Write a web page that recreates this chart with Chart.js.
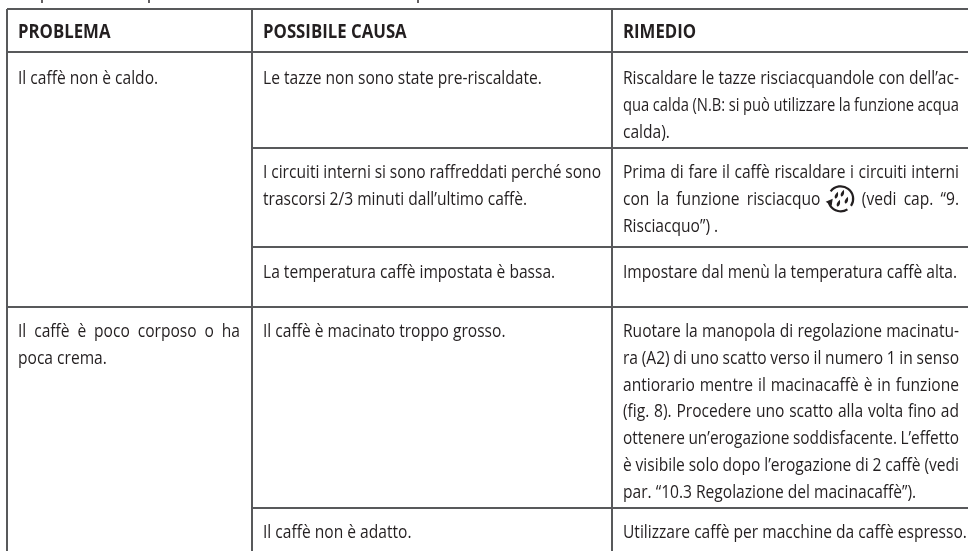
<!DOCTYPE html>
<html>
<head>
<meta charset="utf-8">
<title>Problema, causa, rimedio</title>
<style>
html, body { margin: 0; padding: 0; background: #fff; }
canvas { display: block; }
</style>
<script src="https://cdn.jsdelivr.net/npm/chart.js@4/dist/chart.umd.min.js"></script>
</head>
<body>
<canvas id="table" width="968" height="551"></canvas>
<script>
// table content
const headers = ["PROBLEMA", "POSSIBILE CAUSA", "RIMEDIO"]
const problems = [
    [["Il caffè non è caldo.", false]],
    [["Il caffè è poco corposo o ha", true], ["poca crema.", false]]
]
const causes = [
    [["Le tazze non sono state pre-riscaldate.", false]],
    [["I circuiti interni si sono raffreddati perché sono", true], ["trascorsi 2/3 minuti dall’ultimo caffè.", false]],
    [["La temperatura caffè impostata è bassa.", false]],
    [["Il caffè è macinato troppo grosso.", false]],
    [["Il caffè non è adatto.", false]]
]
const remedies = [
    [["Riscaldare le tazze risciacquandole con dell’ac-", true], ["qua calda (N.B: si può utilizzare la funzione acqua", true], ["calda).", false]],
    [["Prima di fare il caffè riscaldare i circuiti interni", true], ["con la funzione risciacquo @icon (vedi cap. “9.", true], ["Risciacquo”) .", false]],
    [["Impostare dal menù la temperatura caffè alta.", false]],
    [["Ruotare la manopola di regolazione macinatu-", true], ["ra (A2) di uno scatto verso il numero 1 in senso", true], ["antiorario mentre il macinacaffè è in funzione", true], ["(fig. 8). Procedere uno scatto alla volta fino ad", true], ["ottenere un’erogazione soddisfacente. L’effetto", true], ["è visibile solo dopo l’erogazione di 2 caffè (vedi", true], ["par. “10.3 Regolazione del macinacaffè”).", false]],
    [["Utilizzare caffè per macchine da caffè espresso.", false]]
]

// rule positions
const columnEdges = [7, 252, 612, 968]
const rowEdges = [9, 52, 148, 247, 307, 508, 551]
const baselineOffsets = { 52: 32, 148: 30, 247: 31, 307: 30, 508: 30 }
const problemRows = [1, 4]
const causeRows = [1, 2, 3, 4, 5]
const textLefts = [18, 263, 623]
const textRights = [240, 601, 959]
const cutOffMarks = [42, 149, 418]

const ink = "#231f20"
const ruleColor = "#58595b"
const bodyFont = '19px "Open Sans", sans-serif'
const headFont = 'bold 19.5px "Open Sans", sans-serif'
const bodySqueeze = 0.82
const headSqueeze = 0.86
const minWordGap = 3.5
const lineGap = 26.8

function rule(x0, x1, y0, y1, color) {
    return {
        data: [{ x: x0, y: y0 }, { x: x1, y: y1 }],
        borderColor: color || ruleColor,
        borderWidth: color ? 1.4 : 2,
        pointRadius: 0,
        showLine: true,
        clip: false
    }
}

const rules = []
columnEdges.slice(0, 3).forEach(x => rules.push(rule(x, x, rowEdges[0], rowEdges[6])))
rules.push(rule(columnEdges[0], columnEdges[3], rowEdges[0], rowEdges[0]))
rules.push(rule(columnEdges[0], columnEdges[3], rowEdges[1], rowEdges[1]))
rules.push(rule(columnEdges[0], columnEdges[3], rowEdges[4], rowEdges[4]))
rowEdges.slice(2, 6).forEach(y => {
    if (y !== rowEdges[4]) rules.push(rule(columnEdges[1], columnEdges[3], y, y))
})
cutOffMarks.forEach(x => rules.push(rule(x, x, 0, 3, ink)))

function drawIcon(ctx, cx, cy) {
    ctx.save()
    ctx.strokeStyle = ink
    ctx.fillStyle = ink
    ctx.lineWidth = 2.2
    ctx.beginPath()
    ctx.arc(cx, cy, 12.5, -2.5, 0.6)
    ctx.stroke()
    ctx.beginPath()
    ctx.arc(cx, cy, 12.5, 1.0, 2.9)
    ctx.stroke()
    ctx.beginPath()
    ctx.moveTo(cx - 15, cy + 3)
    ctx.lineTo(cx - 8, cy)
    ctx.lineTo(cx - 9, cy + 7)
    ctx.fill()
    ;[[-5, -3], [1, -5], [-3, 5], [5, 2]].forEach(d => {
        ctx.beginPath()
        ctx.moveTo(cx + d[0] + 2, cy + d[1] - 4)
        ctx.quadraticCurveTo(cx + d[0] - 3, cy + d[1] + 1, cx + d[0], cy + d[1] + 3)
        ctx.quadraticCurveTo(cx + d[0] + 3.5, cy + d[1] + 1, cx + d[0] + 2, cy + d[1] - 4)
        ctx.fill()
    })
    ctx.restore()
}

function putText(ctx, text, x, y, squeeze) {
    ctx.save()
    ctx.translate(x, y)
    ctx.scale(squeeze, 1)
    ctx.fillText(text, 0, 0)
    ctx.restore()
}

function drawLine(ctx, text, justify, x, y, right) {
    if (!justify) {
        putText(ctx, text, x, y, bodySqueeze)
        return
    }
    const words = text.split(" ")
    const natural = words.map(w => (w === "@icon" ? 0 : ctx.measureText(w).width))
    const room = right - x - (words.length - 1) * minWordGap - (text.indexOf("@icon") < 0 ? 0 : 27)
    const total = natural.reduce((a, b) => a + b, 0)
    // tight lines get squeezed a bit more instead of having the words touch
    const squeeze = Math.min(bodySqueeze, room / total)
    const sizes = words.map((w, i) => (w === "@icon" ? 27 : natural[i] * squeeze))
    const used = sizes.reduce((a, b) => a + b, 0)
    const gap = (right - x - used) / (words.length - 1)
    let cur = x
    words.forEach((w, i) => {
        if (w === "@icon") drawIcon(ctx, cur + 13, y - 6)
        else putText(ctx, w, cur, y, squeeze)
        cur += sizes[i] + gap
    })
}

const tableText = {
    id: "tableText",
    afterDatasetsDraw(chart) {
        const { ctx, scales } = chart
        const px = v => scales.x.getPixelForValue(v)
        const py = v => scales.y.getPixelForValue(v)
        ctx.save()
        ctx.fillStyle = ink
        ctx.textBaseline = "alphabetic"
        ctx.textAlign = "left"
        ctx.font = headFont
        headers.forEach((h, c) => putText(ctx, h, px(textLefts[c]), py(rowEdges[1]) - 14, headSqueeze))
        ctx.font = bodyFont
        const columns = [problems, causes, remedies]
        const rowMaps = [problemRows, causeRows, causeRows]
        columns.forEach((cells, c) => {
            cells.forEach((cell, r) => {
                const edge = rowEdges[rowMaps[c][r]]
                const first = py(edge) + baselineOffsets[edge]
                cell.forEach((ln, i) => drawLine(ctx, ln[0], ln[1], px(textLefts[c]), first + i * lineGap, px(textRights[c])))
            })
        })
        ctx.restore()
    }
}

new Chart(document.getElementById("table").getContext("2d"), {
    type: "scatter",
    data: { datasets: rules },
    options: {
        responsive: false,
        animation: false,
        layout: { padding: 0 },
        plugins: { legend: { display: false }, tooltip: { enabled: false } },
        scales: {
            x: { type: "linear", min: 0, max: 968, display: false },
            y: { type: "linear", min: 0, max: 551, reverse: true, display: false }
        }
    },
    plugins: [tableText]
})
</script>
</body>
</html>
